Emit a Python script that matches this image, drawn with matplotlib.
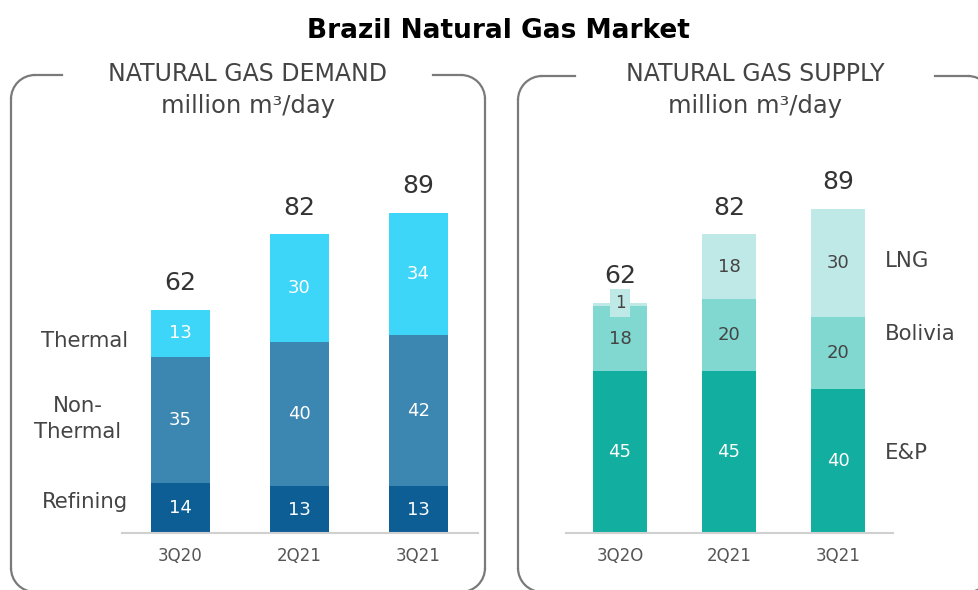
import matplotlib.pyplot as plt
from matplotlib.patches import Arc

# data
quarters = ['3Q20', '2Q21', '3Q21']
quarters_supply = ['3Q2O', '2Q21', '3Q21']

refining = [14, 13, 13]
non_thermal = [35, 40, 42]
thermal = [13, 30, 34]
demand_total = [62, 82, 89]

ep = [45, 45, 40]
bolivia = [18, 20, 20]
lng = [1, 18, 30]
supply_total = [62, 82, 89]

demand_colors = ['#0e5e96', '#3c86b2', '#3dd5f8']
supply_colors = ['#12ae9f', '#80d8d0', '#bfe9e6']

W, H = 979, 590
fig = plt.figure(figsize=(W / 100, H / 100), dpi=100)
plt.rcParams['font.family'] = ['DejaVu Sans']

TXT = '#444444'
PX_PER_UNIT = 3.6


def px_axes(x0, x1, y_base, y_top):
    return fig.add_axes([x0 / W, (H - y_base) / H, (x1 - x0) / W, (y_base - y_top) / H])


def stacked(ax, layers, colors, totals, labels_dark, ticks):
    x = range(len(ticks))
    bottom = [0] * len(ticks)
    for vals, col, dark in zip(layers, colors, labels_dark):
        ax.bar(x, vals, 0.5, bottom=bottom, color=col, zorder=2)
        for i, (b, v) in enumerate(zip(bottom, vals)):
            if v < 3:
                # tiny segment: label sits in a small box on top of the bar
                ax.text(i, b + v, str(v), ha='center', va='center',
                        fontsize=12, color=TXT, zorder=3,
                        bbox=dict(boxstyle='square,pad=0.3', fc=col, ec='none'))
            else:
                ax.text(i, b + v / 2, str(v), ha='center', va='center',
                        fontsize=13, color=TXT if dark else 'white')
        bottom = [b + v for b, v in zip(bottom, vals)]
    for i, t in enumerate(totals):
        ax.text(i, bottom[i] + 7.4, str(t), ha='center', va='center',
                fontsize=18, color='#333333')
    ax.set_xticks(list(x))
    ax.set_xticklabels(ticks, fontsize=12, color='#555555')
    ax.tick_params(axis='x', length=0, pad=10)
    ax.set_yticks([])
    for s in ['left', 'right', 'top']:
        ax.spines[s].set_visible(False)
    ax.spines['bottom'].set_color('#d0d0d0')
    ax.spines['bottom'].set_linewidth(1.5)
    ax.set_facecolor('none')


# left panel: demand
axl = px_axes(122, 478, 533, 160)
axl.set_xlim(-0.49, 2.5)
axl.set_ylim(0, (533 - 160) / PX_PER_UNIT)
stacked(axl, [refining, non_thermal, thermal], demand_colors, demand_total,
        [False, False, False], quarters)

# right panel: supply
axr = px_axes(566, 893, 533, 160)
axr.set_xlim(-0.495, 2.505)
axr.set_ylim(0, (533 - 160) / PX_PER_UNIT)
stacked(axr, [ep, bolivia, lng], supply_colors, supply_total,
        [False, True, True], quarters_supply)

# overlay in pixel coordinates for frames and labels
ov = fig.add_axes([0, 0, 1, 1], zorder=-1)
ov.set_xlim(0, W)
ov.set_ylim(H, 0)
ov.axis('off')

FRAME = '#7a7a7a'


def frame(x0, x1, y0, y1, gap0, gap1, r=24):
    kw = dict(color=FRAME, lw=1.6)
    ov.plot([x0 + r, gap0], [y0, y0], **kw)
    ov.plot([gap1, x1 - r], [y0, y0], **kw)
    ov.plot([x0, x0], [y0 + r, y1 - r], **kw)
    ov.plot([x1, x1], [y0 + r, y1 - r], **kw)
    ov.plot([x0 + r, x1 - r], [y1, y1], **kw)
    for cx, cy, a in [(x0 + r, y0 + r, 180), (x1 - r, y0 + r, 270),
                      (x1 - r, y1 - r, 0), (x0 + r, y1 - r, 90)]:
        ov.add_patch(Arc((cx, cy), 2 * r, 2 * r, theta1=a, theta2=a + 90,
                         color=FRAME, lw=1.6))


frame(11, 485, 75, 592, 62, 433)
frame(518, 992, 76, 592, 575, 935)

fig.text(498 / W, 1 - 31 / H, 'Brazil Natural Gas Market', ha='center', va='center',
         fontsize=19, fontweight='bold', color='black')

for cx, title in [(248, 'NATURAL GAS DEMAND'), (755, 'NATURAL GAS SUPPLY')]:
    ov.text(cx, 74, title, ha='center', va='center', fontsize=17, color=TXT)
    ov.text(cx, 106, 'million m\u00b3/day', ha='center', va='center', fontsize=17.5, color=TXT)

ov.text(128, 341, 'Thermal', ha='right', va='center', fontsize=15.3, color=TXT)
ov.text(78, 419, 'Non-\nThermal', ha='center', va='center', fontsize=15.3, color=TXT,
        linespacing=1.35)
ov.text(128, 502, 'Refining', ha='right', va='center', fontsize=15.3, color=TXT)

ov.text(885, 261, 'LNG', ha='left', va='center', fontsize=15.3, color=TXT)
ov.text(885, 334, 'Bolivia', ha='left', va='center', fontsize=15.3, color=TXT)
ov.text(885, 453, 'E&P', ha='left', va='center', fontsize=15.3, color=TXT)

fig.savefig('out.png', dpi=100)
